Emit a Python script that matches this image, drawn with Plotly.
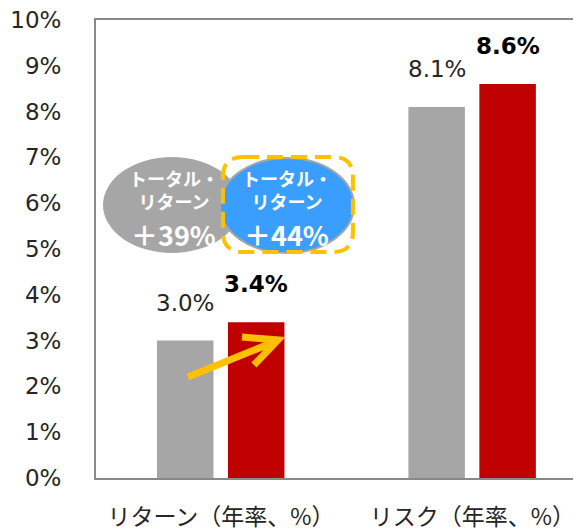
import plotly.graph_objects as go

# ---- data ----
categories = ["リターン（年率、%）", "リスク（年率、%）"]
before_vals = [3.0, 8.1]
after_vals = [3.4, 8.6]
before_labels = ["3.0%", "8.1%"]
after_labels = ["3.4%", "8.6%"]
y_ticks = [0, 1, 2, 3, 4, 5, 6, 7, 8, 9, 10]
y_ticktext = [f"{v}%" for v in y_ticks]
bubble_before = ["トータル・", "リターン", "＋39%"]
bubble_after = ["トータル・", "リターン", "＋44%"]

GRAY = "#A6A6A6"
RED = "#C00000"
BLUE = "#3A9EFF"
ORANGE = "#FFC000"
AXIS = "#898989"

xpos = list(range(len(categories)))

# screen-pixel -> data helpers for decorative shapes
def px_x(p):
    return (p - 221) / 251.5

def px_y(p):
    return (478 - p) / 45.8

fig = go.Figure()
fig.add_trace(go.Bar(x=xpos, y=before_vals, name="before", marker_color=GRAY,
                     width=0.2247, offset=-0.2545, marker_line_width=0))
fig.add_trace(go.Bar(x=xpos, y=after_vals, name="after", marker_color=RED,
                     width=0.2247, offset=0.0278, marker_line_width=0))

ann = []
for i in xpos:
    ann.append(dict(x=i - 0.2545 + 0.2247 / 2, y=before_vals[i], text=before_labels[i],
                    showarrow=False, yanchor="bottom", yshift=23,
                    font=dict(family="DejaVu Sans", size=23, color="#262626")))
    ann.append(dict(x=i + 0.0278 + 0.2247 / 2, y=after_vals[i], text="<b>" + after_labels[i] + "</b>",
                    showarrow=False, yanchor="bottom", yshift=23,
                    font=dict(family="DejaVu Sans", size=23, color="#000000")))

# bubble texts
for cx, lines in ((174, bubble_before), (287, bubble_after)):
    ann.append(dict(x=px_x(cx), y=px_y(189), text="<b>" + lines[0] + "<br>" + lines[1] + "</b>",
                    showarrow=False, xanchor="center", yanchor="middle",
                    font=dict(family="Noto Sans CJK JP", size=18, color="white")))
    ann.append(dict(x=px_x(cx), y=px_y(234), text="<b>" + lines[2] + "</b>",
                    showarrow=False, xanchor="center", yanchor="middle",
                    font=dict(family="Noto Sans CJK JP", size=27, color="white")))

shapes = []
# gray ellipse
shapes.append(dict(type="circle", xref="x", yref="y",
                   x0=px_x(103), x1=px_x(241), y0=px_y(253), y1=px_y(157),
                   fillcolor=GRAY, line=dict(width=0)))
# blue ellipse
shapes.append(dict(type="circle", xref="x", yref="y",
                   x0=px_x(220), x1=px_x(354), y0=px_y(253), y1=px_y(158),
                   fillcolor=BLUE, line=dict(width=2, color=GRAY)))

# dashed rounded rectangle
x0, x1, y0, y1, r = 223, 353, 157, 252, 20
def P(a, b):
    return f"{px_x(a):.5f},{px_y(b):.5f}"
path = (f"M {P(x0 + r, y0)} L {P(x1 - r, y0)} Q {P(x1, y0)} {P(x1, y0 + r)} "
        f"L {P(x1, y1 - r)} Q {P(x1, y1)} {P(x1 - r, y1)} "
        f"L {P(x0 + r, y1)} Q {P(x0, y1)} {P(x0, y1 - r)} "
        f"L {P(x0, y0 + r)} Q {P(x0, y0)} {P(x0 + r, y0)} Z")
shapes.append(dict(type="path", xref="x", yref="y", path=path,
                   line=dict(color=ORANGE, width=4, dash="16px,8px")))

# arrow
arrow = (f"M {P(188, 377)} L {P(274, 342)} "
         f"M {P(242, 337)} L {P(278, 340)} L {P(254, 365)}")
shapes.append(dict(type="path", xref="x", yref="y", path=arrow,
                   line=dict(color=ORANGE, width=7)))

# page body has an 8px margin, so the figure is 8px smaller and shifted
fig.update_layout(
    width=573, height=524,
    margin=dict(l=88, r=0, t=12, b=54, autoexpand=False),
    paper_bgcolor="white", plot_bgcolor="white",
    showlegend=False,
    annotations=ann, shapes=shapes,
    xaxis=dict(range=[-0.497, 1.432], tickvals=xpos, ticktext=categories,
               automargin=False, ticklabeloverflow="allow",
               showline=True, linecolor=AXIS, linewidth=2, mirror=True,
               showgrid=False, zeroline=False, ticks="", ticklabelstandoff=17,
               tickfont=dict(family="Noto Sans CJK JP", size=23, color="#262626")),
    yaxis=dict(range=[0, 10], tickvals=y_ticks, ticktext=y_ticktext,
               automargin=False, ticklabeloverflow="allow",
               showline=True, linecolor=AXIS, linewidth=2, mirror=False,
               showgrid=False, zeroline=False, ticks="", ticklabelstandoff=28,
               tickfont=dict(family="DejaVu Sans", size=23, color="#262626")),
)

fig.write_html("out.html")
